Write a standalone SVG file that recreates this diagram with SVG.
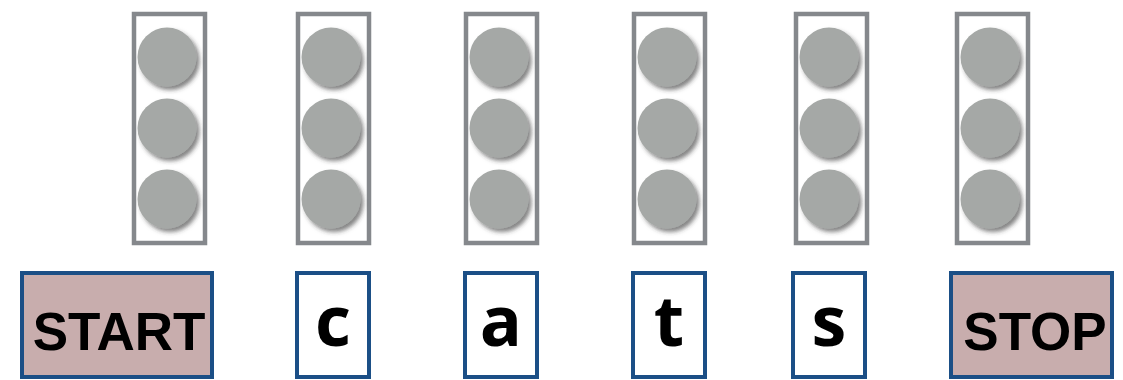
<svg xmlns="http://www.w3.org/2000/svg" width="1123" height="380" viewBox="0 0 1123 380">
<defs>
<filter id="sh" x="-30%" y="-30%" width="170%" height="170%">
<feDropShadow dx="3" dy="3.5" stdDeviation="2" flood-color="#303030" flood-opacity="0.6"/>
</filter>
<style>
.col{fill:#fff;stroke:#85888c;stroke-width:4.5}
.dot{fill:#a5a8a6;filter:url(#sh)}
.box{fill:#fff;stroke:#1b4f86;stroke-width:4}
.end{fill:#c8adad;stroke:#1b4f86;stroke-width:4}
.big{font-family:"Liberation Sans",Arial,sans-serif;font-weight:bold;font-size:53px;fill:#000;text-anchor:middle}
.ch{font-family:"Open Sans","DejaVu Sans",sans-serif;font-weight:bold;font-size:70px;fill:#000;text-anchor:middle}
</style>
</defs>
<g id="col1"><rect class="col" x="134" y="14" width="71" height="229"/><circle class="dot" cx="167" cy="57" r="29.5"/><circle class="dot" cx="167" cy="128" r="29.5"/><circle class="dot" cx="167" cy="199" r="29.5"/></g>
<g id="col2"><rect class="col" x="298" y="14" width="71" height="229"/><circle class="dot" cx="331" cy="57" r="29.5"/><circle class="dot" cx="331" cy="128" r="29.5"/><circle class="dot" cx="331" cy="199" r="29.5"/></g>
<g id="col3"><rect class="col" x="466" y="14" width="71" height="229"/><circle class="dot" cx="499" cy="57" r="29.5"/><circle class="dot" cx="499" cy="128" r="29.5"/><circle class="dot" cx="499" cy="199" r="29.5"/></g>
<g id="col4"><rect class="col" x="634" y="14" width="71" height="229"/><circle class="dot" cx="667" cy="57" r="29.5"/><circle class="dot" cx="667" cy="128" r="29.5"/><circle class="dot" cx="667" cy="199" r="29.5"/></g>
<g id="col5"><rect class="col" x="796" y="14" width="71" height="229"/><circle class="dot" cx="829" cy="57" r="29.5"/><circle class="dot" cx="829" cy="128" r="29.5"/><circle class="dot" cx="829" cy="199" r="29.5"/></g>
<g id="col6"><rect class="col" x="957" y="14" width="71" height="229"/><circle class="dot" cx="990" cy="57" r="29.5"/><circle class="dot" cx="990" cy="128" r="29.5"/><circle class="dot" cx="990" cy="199" r="29.5"/></g>
<g id="start"><rect class="end" x="22" y="273" width="190" height="104"/><text class="big" x="119" y="350">START</text></g>
<g id="c"><rect class="box" x="297" y="273" width="72" height="104"/><text class="ch" x="333" y="346">c</text></g>
<g id="a"><rect class="box" x="465" y="273" width="72" height="104"/><text class="ch" x="501" y="346">a</text></g>
<g id="t"><rect class="box" x="633" y="273" width="72" height="104"/><text class="ch" x="669" y="346">t</text></g>
<g id="s"><rect class="box" x="793" y="273" width="72" height="104"/><text class="ch" x="829" y="346">s</text></g>
<g id="stop"><rect class="end" x="951" y="273" width="161" height="104"/><text class="big" x="1035" y="350">STOP</text></g>
<g id="connectors"/>
</svg>
